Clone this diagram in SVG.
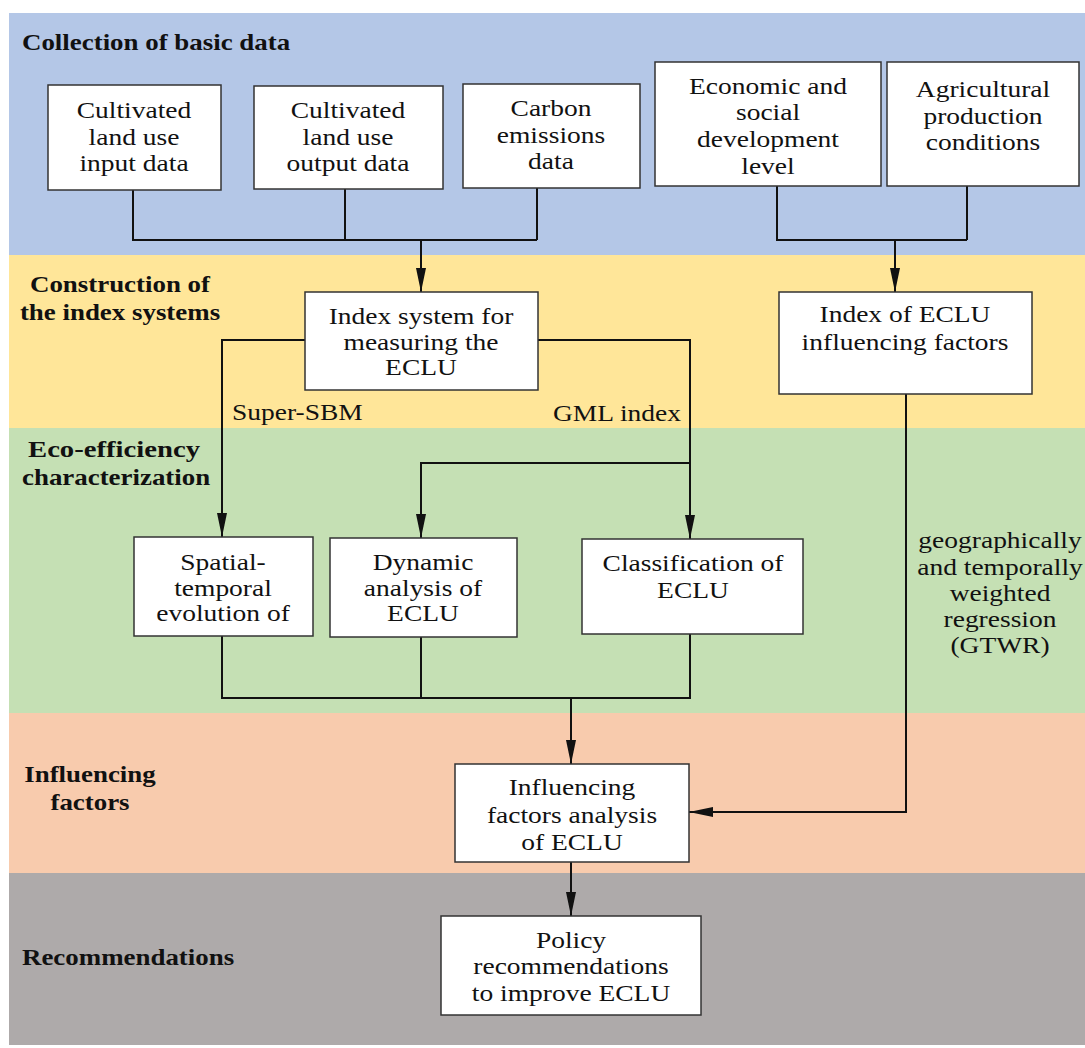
<svg xmlns="http://www.w3.org/2000/svg" width="1085" height="1048" viewBox="0 0 1085 1048">
<style>
.t{font-family:"Liberation Serif","Times New Roman",serif;font-size:23.5px;fill:#111;text-anchor:middle}
.b{font-family:"Liberation Serif","Times New Roman",serif;font-size:23px;font-weight:bold;fill:#111}
.box{fill:#fff;stroke:#333;stroke-width:1.5}
.c{fill:none;stroke:#111;stroke-width:2}
</style>
<defs>
<marker id="ah" viewBox="0 0 24 10" markerWidth="24" markerHeight="10" refX="24" refY="5" orient="auto" markerUnits="userSpaceOnUse">
<path d="M0,0 L24,5 L0,10 Z" fill="#111"/>
</marker>
</defs>
<rect width="1085" height="1048" fill="#fff"/>
<g id="bands">
<rect x="9" y="13" width="1076" height="242" fill="#B4C7E7"/>
<rect x="9" y="255" width="1076" height="173" fill="#FFE699"/>
<rect x="9" y="428" width="1076" height="285" fill="#C5E0B4"/>
<rect x="9" y="713" width="1076" height="160" fill="#F8CBAD"/>
<rect x="9" y="873" width="1076" height="172" fill="#AEAAAA"/>
</g>
<g id="stage-labels">
<text class="b" transform="translate(22,50) scale(1.17,1)">Collection of basic data</text>
<text class="b" text-anchor="middle" transform="translate(120,0) scale(1.17,1)"><tspan x="0" y="292">Construction of</tspan><tspan x="0" y="320">the index systems</tspan></text>
<text class="b" transform="translate(28,457) scale(1.17,1)" textLength="147" lengthAdjust="spacingAndGlyphs">Eco-efficiency</text>
<text class="b" transform="translate(22,485) scale(1.17,1)">characterization</text>
<text class="b" text-anchor="middle" transform="translate(90,0) scale(1.17,1)"><tspan x="0" y="782">Influencing</tspan><tspan x="0" y="810">factors</tspan></text>
<text class="b" transform="translate(22,965) scale(1.17,1)">Recommendations</text>
</g>
<g id="connectors">
<path class="c" d="M133,190 V240 H537 M345,189 V240 M537,188 V240"/>
<path class="c" d="M421,240 V292" marker-end="url(#ah)"/>
<path class="c" d="M777,186 V240 H967 M967,186 V240"/>
<path class="c" d="M895,240 V292" marker-end="url(#ah)"/>
<path class="c" d="M305,340 H222 V537" marker-end="url(#ah)"/>
<path class="c" d="M538,340 H690 V539" marker-end="url(#ah)"/>
<path class="c" d="M690,463 H421 V538" marker-end="url(#ah)"/>
<path class="c" d="M222,636 V698 H690 V634 M421,637 V698"/>
<path class="c" d="M571,698 V764" marker-end="url(#ah)"/>
<path class="c" d="M906,394 V812 H689" marker-end="url(#ah)"/>
<path class="c" d="M571,862 V916" marker-end="url(#ah)"/>
</g>
<g id="edge-labels">
<text class="t" style="text-anchor:start" transform="translate(232,420) scale(1.17,1)">Super-SBM</text>
<text class="t" style="text-anchor:start" transform="translate(553,421) scale(1.17,1)">GML index</text>
<text class="t" transform="translate(1000,0) scale(1.17,1)"><tspan x="0" y="548">geographically</tspan><tspan x="0" y="575">and temporally</tspan><tspan x="0" y="601">weighted</tspan><tspan x="0" y="627">regression</tspan><tspan x="0" y="653">(GTWR)</tspan></text>
</g>
<g id="n-input">
<rect class="box" x="48" y="85" width="173" height="105"/>
<text class="t" transform="translate(134,0) scale(1.17,1)"><tspan x="0" y="118">Cultivated</tspan><tspan x="0" y="145">land use</tspan><tspan x="0" y="171">input data</tspan></text>
</g>
<g id="n-output">
<rect class="box" x="254" y="86" width="189" height="103"/>
<text class="t" transform="translate(348,0) scale(1.17,1)"><tspan x="0" y="118">Cultivated</tspan><tspan x="0" y="145">land use</tspan><tspan x="0" y="171">output data</tspan></text>
</g>
<g id="n-carbon">
<rect class="box" x="463" y="84" width="177" height="104"/>
<text class="t" transform="translate(551,0) scale(1.17,1)"><tspan x="0" y="116">Carbon</tspan><tspan x="0" y="143">emissions</tspan><tspan x="0" y="169">data</tspan></text>
</g>
<g id="n-econ">
<rect class="box" x="655" y="62" width="226" height="124"/>
<text class="t" transform="translate(768,0) scale(1.17,1)"><tspan x="0" y="94">Economic and</tspan><tspan x="0" y="120">social</tspan><tspan x="0" y="147">development</tspan><tspan x="0" y="174">level</tspan></text>
</g>
<g id="n-agri">
<rect class="box" x="887" y="62" width="192" height="124"/>
<text class="t" transform="translate(983,0) scale(1.17,1)"><tspan x="0" y="97">Agricultural</tspan><tspan x="0" y="124">production</tspan><tspan x="0" y="150">conditions</tspan></text>
</g>
<g id="n-index-system">
<rect class="box" x="305" y="292" width="233" height="98"/>
<text class="t" transform="translate(421,0) scale(1.17,1)"><tspan x="0" y="324">Index system for</tspan><tspan x="0" y="350">measuring the</tspan><tspan x="0" y="375">ECLU</tspan></text>
</g>
<g id="n-index-factors">
<rect class="box" x="779" y="292" width="253" height="102"/>
<text class="t" transform="translate(905,0) scale(1.17,1)"><tspan x="0" y="322">Index of ECLU</tspan><tspan x="0" y="350">influencing factors</tspan></text>
</g>
<g id="n-spatial">
<rect class="box" x="134" y="537" width="179" height="99"/>
<text class="t" transform="translate(223,0) scale(1.17,1)"><tspan x="0" y="570">Spatial-</tspan><tspan x="0" y="596">temporal</tspan><tspan x="0" y="621">evolution of</tspan></text>
</g>
<g id="n-dynamic">
<rect class="box" x="330" y="538" width="187" height="99"/>
<text class="t" transform="translate(423,0) scale(1.17,1)"><tspan x="0" y="570">Dynamic</tspan><tspan x="0" y="596">analysis of</tspan><tspan x="0" y="621">ECLU</tspan></text>
</g>
<g id="n-class">
<rect class="box" x="582" y="539" width="221" height="95"/>
<text class="t" transform="translate(693,0) scale(1.17,1)"><tspan x="0" y="571">Classification of</tspan><tspan x="0" y="598">ECLU</tspan></text>
</g>
<g id="n-influence">
<rect class="box" x="455" y="764" width="234" height="98"/>
<text class="t" transform="translate(572,0) scale(1.17,1)"><tspan x="0" y="795">Influencing</tspan><tspan x="0" y="823">factors analysis</tspan><tspan x="0" y="850">of ECLU</tspan></text>
</g>
<g id="n-policy">
<rect class="box" x="441" y="916" width="260" height="99"/>
<text class="t" transform="translate(571,0) scale(1.17,1)"><tspan x="0" y="948">Policy</tspan><tspan x="0" y="974">recommendations</tspan><tspan x="0" y="1001">to improve ECLU</tspan></text>
</g>
</svg>
